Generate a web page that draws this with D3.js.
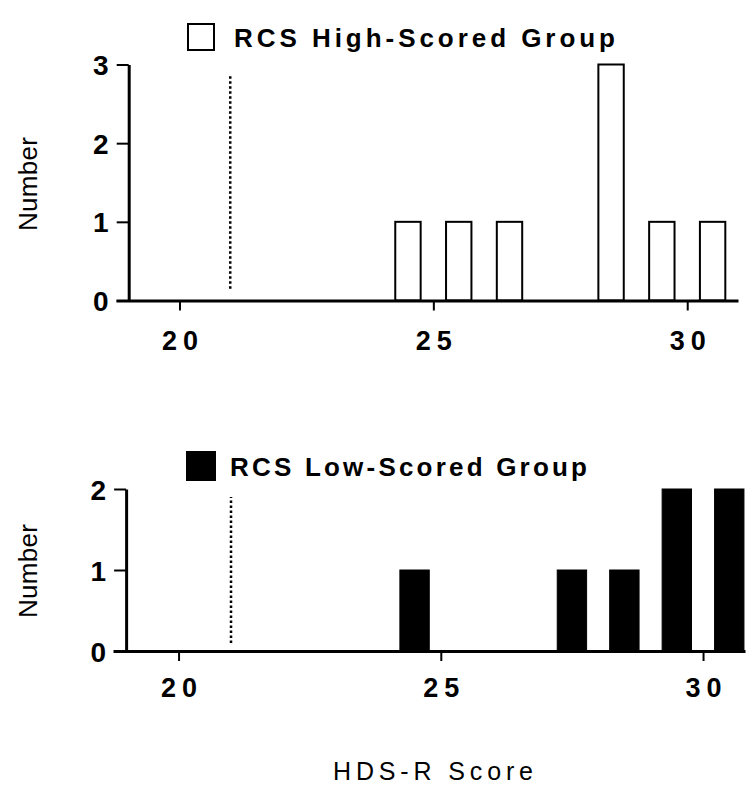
<!DOCTYPE html>
<html>
<head>
<meta charset="utf-8">
<script src="https://cdn.jsdelivr.net/npm/d3@7"></script>
<style>
  body { margin: 0; background: #fff; }
  svg { display: block; font-family: "Liberation Sans", Arial, sans-serif; }
</style>
</head>
<body>
<div id="chart"></div>
<script>
// HDS-R score histogram, two panels
const highScores = [24, 25, 26, 28, 29, 30];
const highCounts = [1, 1, 1, 3, 1, 1];
const lowScores = [24, 27, 28, 29, 30];
const lowCounts = [1, 1, 1, 2, 2];
const xTicks = [20, 25, 30];
const highYTicks = [0, 1, 2, 3];
const lowYTicks = [0, 1, 2];
const cutoff = 21;
const highTitle = 'RCS High-Scored Group';
const lowTitle = 'RCS Low-Scored Group';
const yLabel = 'Number';
const xLabel = 'HDS-R Score';

const w = 749, h = 786;

const svg = d3.select('#chart')
  .append('svg')
  .attr('width', w)
  .attr('height', h);

// panel layouts (pixel frames only)
const panels = [
  {
    scores: highScores, counts: highCounts, yTicks: highYTicks, yMax: 3,
    title: highTitle, filled: false,
    x: d3.scaleLinear().domain([18.75, 31]).range([116, 738]),
    y: d3.scaleLinear().domain([0, 3]).range([300.5, 64.5]),
    barW: 0.5, titleY: 47, titleX: 234, titleLen: 381,
    box: {x: 188, y: 24, s: 26}, labelGap: 49, yLabelY: 184
  },
  {
    scores: lowScores, counts: lowCounts, yTicks: lowYTicks, yMax: 2,
    title: lowTitle, filled: true,
    x: d3.scaleLinear().domain([18.75, 30.8]).range([113, 745]),
    y: d3.scaleLinear().domain([0, 2]).range([651, 489]),
    barW: 0.56, titleY: 476, titleX: 230, titleLen: 357,
    box: {x: 187, y: 452, s: 28}, labelGap: 46, yLabelY: 571
  }
];

panels.forEach(p => {
  const g = svg.append('g');
  const x0 = p.x(19); // y-axis sits at score 19

  // bars (bin [s, s+1) drawn around s + 0.5)
  g.append('g').selectAll('rect.bar')
    .data(p.scores.map((s, i) => ({s: s, n: p.counts[i]})))
    .enter()
    .append('rect')
    .attr('class', 'bar')
    .attr('x', d => p.x(d.s + 0.5 - p.barW / 2))
    .attr('width', d => p.x(d.s + 0.5 + p.barW / 2) - p.x(d.s + 0.5 - p.barW / 2))
    .attr('y', d => p.y(d.n))
    .attr('height', d => p.y(0) - p.y(d.n))
    .style('fill', p.filled ? '#000' : '#fff')
    .style('stroke', '#000')
    .style('stroke-width', p.filled ? 1 : 2);

  // dotted cutoff line
  g.append('line')
    .attr('x1', p.x(cutoff)).attr('x2', p.x(cutoff))
    .attr('y1', p.y(p.yMax * 0.05)).attr('y2', p.y(p.yMax * 0.95))
    .style('stroke', '#000')
    .style('stroke-width', 2.5)
    .style('stroke-dasharray', '2.5,2.5');

  // x axis
  const xAxis = g.append('g')
    .attr('transform', `translate(0, ${p.y(0)})`)
    .call(d3.axisBottom(p.x).tickValues(xTicks).tickSize(10).tickSizeOuter(0).tickPadding(22));
  xAxis.select('.domain').style('stroke-width', 3);
  xAxis.selectAll('.tick line').style('stroke-width', 2);
  xAxis.selectAll('.tick text')
    .attr('y', p.labelGap)
    .attr('dy', 0)
    .attr('dx', 3)
    .style('font-size', '27px')
    .style('font-weight', 'bold')
    .style('letter-spacing', '6px')
    .style('fill', '#000');

  // y axis
  const yAxis = g.append('g')
    .attr('transform', `translate(${x0}, 0)`)
    .call(d3.axisLeft(p.y).tickValues(p.yTicks).tickFormat(d3.format('d')).tickSize(12).tickSizeOuter(0).tickPadding(8));
  yAxis.select('.domain').style('stroke-width', 3);
  yAxis.selectAll('.tick line').style('stroke-width', 2);
  yAxis.selectAll('.tick text')
    .attr('dy', '0.36em')
    .style('font-size', '28px')
    .style('font-weight', 'bold')
    .style('fill', '#000');

  // legend box + title
  g.append('rect')
    .attr('x', p.box.x).attr('y', p.box.y)
    .attr('width', p.box.s).attr('height', p.box.s)
    .style('fill', p.filled ? '#000' : '#fff')
    .style('stroke', '#000')
    .style('stroke-width', 2);

  g.append('text')
    .attr('x', p.titleX)
    .attr('y', p.titleY)
    .attr('textLength', p.titleLen)
    .attr('lengthAdjust', 'spacing')
    .style('font-size', '26px')
    .style('font-weight', 'bold')
    .text(p.title);

  // y label
  g.append('text')
    .attr('transform', `translate(37, ${p.yLabelY}) rotate(-90)`)
    .attr('text-anchor', 'middle')
    .attr('textLength', 94)
    .attr('lengthAdjust', 'spacing')
    .style('font-size', '26px')
    .text(yLabel);
});

// shared x label
svg.append('text')
  .attr('x', 433)
  .attr('y', 780)
  .attr('text-anchor', 'middle')
  .attr('textLength', 200)
  .attr('lengthAdjust', 'spacing')
  .style('font-size', '25px')
  .text(xLabel);
</script>
</body>
</html>
